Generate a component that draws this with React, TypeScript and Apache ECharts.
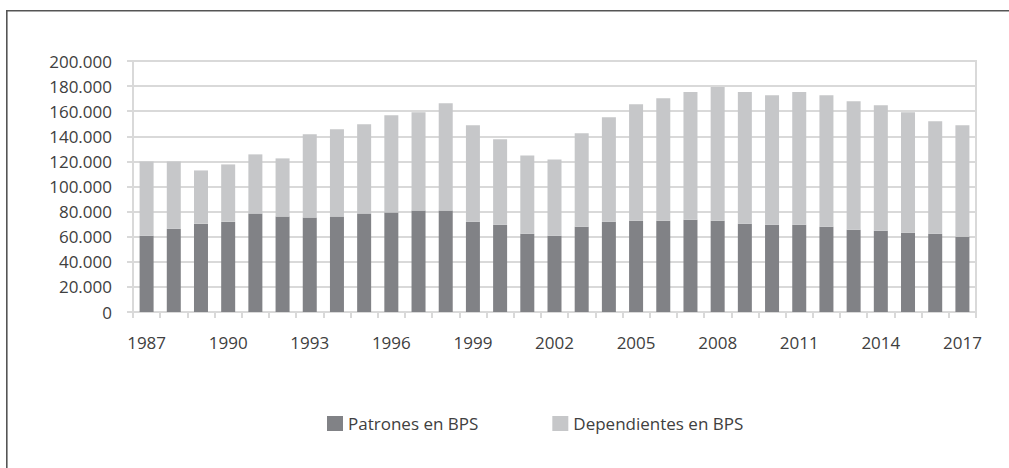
import React, { useEffect, useRef } from "react";
import * as echarts from "echarts";

const years: string[] = [
  "1987","1988","1989","1990","1991","1992","1993","1994","1995","1996",
  "1997","1998","1999","2000","2001","2002","2003","2004","2005","2006",
  "2007","2008","2009","2010","2011","2012","2013","2014","2015","2016","2017",
];

const patrones: number[] = [
  60800, 66400, 70400, 72000, 78400, 76000, 75200, 76000, 78400, 79200,
  80800, 80800, 72000, 69600, 62400, 60800, 68000, 72000, 72800, 72800,
  73600, 72800, 70400, 69600, 69600, 68000, 65600, 64800, 63200, 62400, 60000,
];

const totales: number[] = [
  120000, 120000, 112800, 117600, 125600, 122400, 141600, 145600, 149600, 156800,
  159200, 166400, 148800, 137600, 124800, 121600, 142400, 155200, 165600, 170400,
  175200, 179200, 175200, 172800, 175200, 172800, 168000, 164800, 159200, 152000, 148800,
];

const dependientes: number[] = totales.map((t, i) => t - patrones[i]);

const seriesNames = ["Patrones en BPS", "Dependientes en BPS"];

const fmt = (v: number) =>
  String(Math.round(v)).replace(/\B(?=(\d{3})+(?!\d))/g, ".");

export default function App() {
  const ref = useRef<HTMLDivElement>(null);
  useEffect(() => {
    if (!ref.current) return;
    const chart = echarts.init(ref.current, null, { renderer: "svg" });
    const font = "'Open Sans', 'Noto Sans', sans-serif";
    const frame = { stroke: "#555555", lineWidth: 1.6 };
    chart.setOption({
      animation: false,
      backgroundColor: "#ffffff",
      textStyle: { fontFamily: font },
      graphic: [
        {
          type: "line",
          shape: { x1: 6.5, y1: 10.8, x2: 1009, y2: 10.8 },
          style: frame,
          silent: true,
        },
        {
          type: "line",
          shape: { x1: 6.8, y1: 10, x2: 6.8, y2: 468 },
          style: frame,
          silent: true,
        },
      ],
      grid: {
        left: 133,
        right: 33,
        top: 61,
        bottom: 156,
        show: true,
        borderColor: "#d9d9d9",
        borderWidth: 2,
        containLabel: false,
      },
      legend: {
        left: 327,
        top: 415,
        padding: 0,
        itemWidth: 16,
        itemHeight: 15,
        itemGap: 74,
        icon: "rect",
        textStyle: { fontSize: 17, color: "#404040", fontFamily: font },
        data: seriesNames,
      },
      xAxis: {
        type: "category",
        data: years,
        boundaryGap: true,
        axisLine: { lineStyle: { color: "#d9d9d9", width: 2 } },
        axisTick: {
          show: true,
          length: 6,
          interval: 0,
          lineStyle: { color: "#d9d9d9", width: 2 },
        },
        axisLabel: {
          interval: 2,
          margin: 22,
          fontSize: 17,
          color: "#404040",
          fontFamily: font,
        },
      },
      yAxis: {
        type: "value",
        min: 0,
        max: 200000,
        interval: 20000,
        axisLine: { show: true, lineStyle: { color: "#d9d9d9", width: 2 } },
        axisTick: { show: true, length: 6, lineStyle: { color: "#d9d9d9", width: 2 } },
        splitLine: { show: true, lineStyle: { color: "#d9d9d9", width: 2 } },
        axisLabel: {
          margin: 21,
          fontSize: 17,
          color: "#404040",
          fontFamily: font,
          formatter: (v: number) => fmt(v),
        },
      },
      series: [
        {
          name: seriesNames[0],
          type: "bar",
          stack: "total",
          data: patrones,
          barWidth: 14,
          itemStyle: { color: "#818286" },
        },
        {
          name: seriesNames[1],
          type: "bar",
          stack: "total",
          data: dependientes,
          barWidth: 14,
          itemStyle: { color: "#c6c7c9" },
        },
      ],
    });
    return () => chart.dispose();
  }, []);
  return (
    <div
      ref={ref}
      style={{ position: "fixed", left: 0, top: 0, width: 1009, height: 468 }}
    />
  );
}
